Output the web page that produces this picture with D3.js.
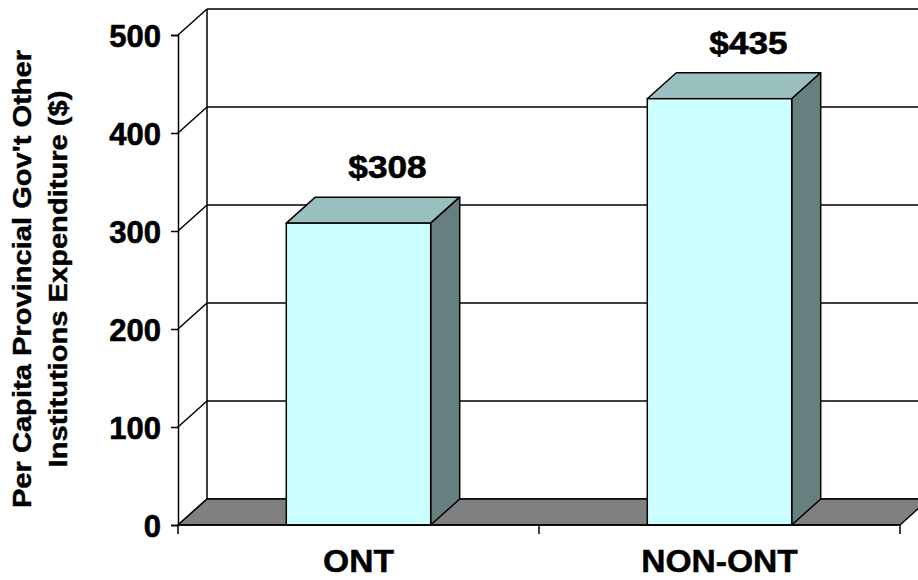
<!DOCTYPE html>
<html>
<head>
<meta charset="utf-8">
<script src="https://cdn.jsdelivr.net/npm/d3@7"></script>
<style>
  html, body { margin: 0; padding: 0; background: #fff; }
  svg { display: block; font-family: Arial, "Liberation Sans", sans-serif; }
</style>
</head>
<body>
<svg id="chart" width="918" height="580"></svg>
<script>
// ---- data ----
const categories = ["ONT", "NON-ONT"];
const values = [308, 435];
const valueLabels = ["$308", "$435"];
const yTicks = [0, 100, 200, 300, 400, 500];
const yTitleLines = ["Per Capita Provincial Gov't Other", "Institutions Expenditure ($)"];

// ---- layout ----
const svg = d3.select("#chart");
const DX = 29, DY = -26;           // 3D depth offset
const x0 = 178, x1 = 900;          // front x-axis extent
const y = d3.scaleLinear().domain([0, 500]).range([525, 35]);
const x = d3.scaleBand().domain(categories).range([x0, x1]).paddingInner(0.6).paddingOuter(0.3);

const colFront = "#ccffff", colTop = "#99bfbf", colSide = "#668080", colFloor = "#808080";

// back wall
const back = svg.append("g");
back.append("rect")
  .attr("x", x0 + DX).attr("y", y(500) + DY)
  .attr("width", x1 - x0 + 20).attr("height", y(0) - y(500))
  .attr("fill", "#fff");
back.selectAll("line.grid").data(yTicks).join("line")
  .attr("x1", x0 + DX).attr("x2", 940)
  .attr("y1", d => y(d) + DY).attr("y2", d => y(d) + DY)
  .attr("stroke", "#000").attr("stroke-width", 1.5);
back.selectAll("line.diag").data(yTicks).join("line")
  .attr("x1", x0).attr("y1", d => y(d))
  .attr("x2", x0 + DX).attr("y2", d => y(d) + DY)
  .attr("stroke", "#000").attr("stroke-width", 1.5);
back.append("line")
  .attr("x1", x0 + DX).attr("x2", x0 + DX)
  .attr("y1", y(500) + DY).attr("y2", y(0) + DY)
  .attr("stroke", "#000").attr("stroke-width", 1.5);

// floor
svg.append("polygon")
  .attr("points", [[x0, y(0)], [x1, y(0)], [x1 + DX, y(0) + DY], [x0 + DX, y(0) + DY]].map(p => p.join(",")).join(" "))
  .attr("fill", colFloor).attr("stroke", "#000").attr("stroke-width", 1.5).attr("stroke-linejoin", "round");

// bars
const bars = svg.selectAll("g.bar").data(categories.map((c, i) => ({c, v: values[i], label: valueLabels[i]})))
  .join("g").attr("class", "bar");
bars.append("polygon")
  .attr("points", d => {
    const a = x(d.c), b = x(d.c) + x.bandwidth(), t = y(d.v);
    return [[a, t], [a + DX, t + DY], [b + DX, t + DY], [b, t]].map(p => p.join(",")).join(" ");
  })
  .attr("fill", colTop).attr("stroke", "#000").attr("stroke-width", 1.5).attr("stroke-linejoin", "round");
bars.append("polygon")
  .attr("points", d => {
    const b = x(d.c) + x.bandwidth(), t = y(d.v), z = y(0);
    return [[b, t], [b + DX, t + DY], [b + DX, z + DY], [b, z]].map(p => p.join(",")).join(" ");
  })
  .attr("fill", colSide).attr("stroke", "#000").attr("stroke-width", 1.5).attr("stroke-linejoin", "round");
bars.append("rect")
  .attr("x", d => x(d.c)).attr("y", d => y(d.v))
  .attr("width", x.bandwidth()).attr("height", d => y(0) - y(d.v))
  .attr("fill", colFront).attr("stroke", "#000").attr("stroke-width", 1.5);
bars.append("text")
  .attr("transform", d => `translate(${x(d.c) + x.bandwidth() / 2 + DX},${y(d.v) - 45}) scale(1.1,1)`)
  .attr("text-anchor", "middle")
  .attr("font-size", 32).attr("font-weight", "bold")
  .attr("stroke", "#000").attr("stroke-width", 0.6)
  .text(d => d.label);

// y axis (front)
const yAxis = d3.axisLeft(y).tickValues(yTicks).tickSize(7).tickPadding(10).tickFormat(d3.format("d"));
const gy = svg.append("g").attr("transform", `translate(${x0},0)`).call(yAxis);
gy.select(".domain").attr("stroke", "#000").attr("stroke-width", 1.5);
gy.selectAll(".tick line").attr("stroke", "#000").attr("stroke-width", 1.5);
gy.selectAll(".tick text")
  .attr("font-size", 31).attr("font-weight", "bold").attr("fill", "#000")
  .attr("stroke", "#000").attr("stroke-width", 0.6)
  .attr("font-family", "Arial, 'Liberation Sans', sans-serif")
  .attr("dy", "0.36em");

// x axis (front)
const xAxisScale = d3.scalePoint().domain([0, 1, 2]).range([x0, x1]);
const gx = svg.append("g").attr("transform", `translate(0,${y(0)})`);
gx.append("line").attr("x1", x0).attr("x2", x1).attr("y1", 0).attr("y2", 0)
  .attr("stroke", "#000").attr("stroke-width", 1.5);
gx.selectAll("line.tick").data(xAxisScale.domain()).join("line")
  .attr("x1", d => xAxisScale(d)).attr("x2", d => xAxisScale(d))
  .attr("y1", 0).attr("y2", 9)
  .attr("stroke", "#000").attr("stroke-width", 1.5);
gx.selectAll("text").data(categories).join("text")
  .attr("transform", d => `translate(${x(d) + x.bandwidth() / 2},${47}) scale(1.05,1)`)
  .attr("text-anchor", "middle")
  .attr("font-size", 32).attr("font-weight", "bold")
  .attr("stroke", "#000").attr("stroke-width", 0.5)
  .text(d => d);

// y title
const gt = svg.append("g").attr("transform", "translate(0,279) rotate(-90)");
gt.selectAll("text").data(yTitleLines).join("text")
  .attr("transform", (d, i) => `translate(0,${31 + i * 36}) scale(1.12,1)`)
  .attr("text-anchor", "middle")
  .attr("font-size", 26).attr("font-weight", "bold")
  .attr("stroke", "#000").attr("stroke-width", 0.4)
  .text(d => d);
</script>
</body>
</html>
